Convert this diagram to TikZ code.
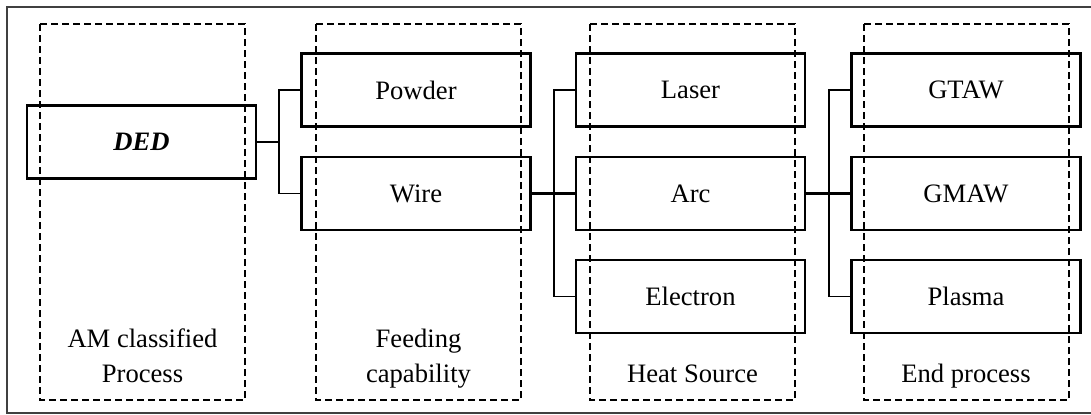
\documentclass[tikz,border=0pt]{standalone}
\usepackage{fontspec}
\setmainfont{Liberation Serif}
\usetikzlibrary{positioning}

\begin{document}
\begin{tikzpicture}[
    x=0.5pt,
    y=-0.5pt,
    box/.style={draw, line width=1.2pt, minimum width=114.5pt, minimum height=36.5pt, inner sep=0pt, font=\fontsize{13.3}{16}\selectfont},
    group/.style={draw, dash pattern=on 3.5pt off 2pt, line width=0.9pt},
    lab/.style={align=center, anchor=base, font=\fontsize{13.3}{17.5}\selectfont},
    link/.style={line width=0.9pt},
    trunk/.style={line width=1.8pt}
]
\useasboundingbox (0,0) rectangle (1091,414);
\draw[black!75, line width=0.7pt] (7,7) rectangle (1096,413);

% dashed columns
\foreach \x in {40,316,590,864}{
  \draw[group] (\x,24) rectangle ++(205,376);
}
\node[lab] (labAM) at (142.5,382) {AM classified\\Process};
\node[lab] (labFeed) at (418.5,382) {Feeding\\capability};
\node[lab] (labHeat) at (692.5,382) {Heat Source};
\node[lab] (labEnd) at (966,382) {End process};

% boxes
\node[box] (ded) at (141.5,142) {\textbf{\textit{DED}}};
\node[box] (powder) at (416,90) {Powder};
\node[box] (wire) at (416,193.5) {Wire};
\node[box] (laser) at (690.5,90) {Laser};
\node[box] (arc) at (690.5,193.5) {Arc};
\node[box] (electron) at (690.5,296.5) {Electron};
\node[box] (gtaw) at (966,90) {GTAW};
\node[box] (gmaw) at (966,193.5) {GMAW};
\node[box] (plasma) at (966,296.5) {Plasma};

% links
\coordinate[right=11pt of ded.east] (j1);
\coordinate[right=11pt of wire.east] (j2);
\coordinate[right=11.5pt of arc.east] (j3);
\draw[link] (ded.east) -- (j1);
\draw[link] (powder.west) -| (j1) |- (wire.west);
\draw[trunk] (wire.east) -- (arc.west);
\draw[link] (laser.west) -| (j2) |- (electron.west);
\draw[trunk] (arc.east) -- (gmaw.west);
\draw[link] (gtaw.west) -| (j3) |- (plasma.west);
\end{tikzpicture}
\end{document}
